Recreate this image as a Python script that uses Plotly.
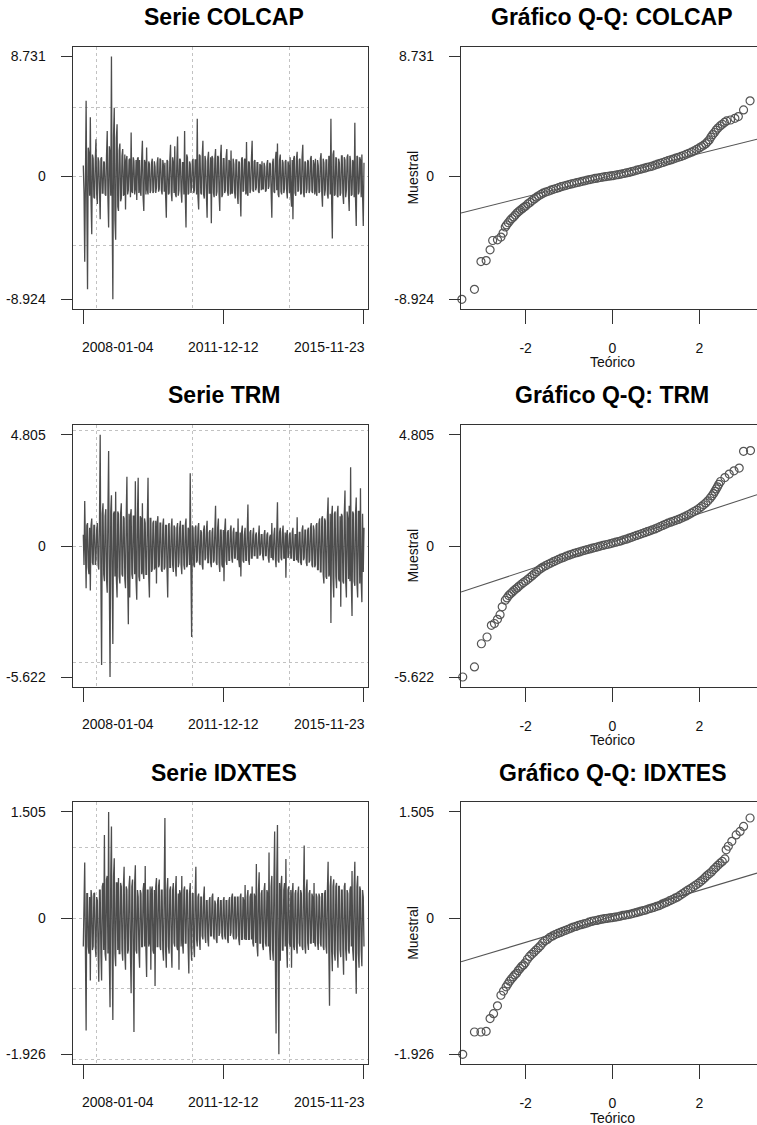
import math
import plotly.graph_objects as go

W, H = 757, 1125

series_names = ["COLCAP", "TRM", "IDXTES"]
date_labels = ["2008-01-04", "2011-12-12", "2015-11-23"]

colcap = [
    0.8, -1.2, -6.2, 1.5, 5.5, -2.0, -8.2, 2.1, 1.6, -1.4, 4.3, -1.8, -4.2, 1.6, 1.3, -1.5, -1.6, 1.2, 2.7, -1.3,
    -2.0, 1.4, 1.1, -1.0, -3.1, 1.3, 1.4, -1.2, -1.2, 1.1, 1.0, -1.3, -1.4, 1.5, 3.3, -1.6, -3.7, 2.2, 1.5, -1.4,
    8.731, -2.5, -8.924, 3.0, 5.0, -3.2, -4.6, 2.8, 3.8, -2.2, -2.5, 1.9, 2.4, -1.8, -1.6, 1.5, 2.0, -1.4, -1.3, 1.6,
    -2.4, 1.2, 1.5, -1.3, -1.0, 1.2, 1.3, -1.5, 3.2, -1.1, -1.2, 1.4, 1.1, -1.3, -0.9, 1.2, -1.7, 1.3, 1.4, -1.2,
    1.2, -1.1, -1.4, 1.3, 2.6, -1.5, -2.5, 1.2, 1.0, -1.3, 2.1, -1.0, -1.3, 1.1, 0.9, -1.2, -1.0, 1.0, 1.3, -1.2,
    -1.1, 1.1, 0.7, -1.2, -0.8, 1.0, 1.4, -1.1, -0.9, 1.3, 1.2, -1.0, -1.3, 1.2, 0.8, -1.1, 1.0, -1.4, -3.0, 1.2,
    1.1, -1.3, -1.2, 1.2, 2.3, -1.1, -1.8, 1.4, 1.0, -1.2, 2.2, -1.3, -1.5, 1.2, 2.9, -1.4, -1.0, 1.3, 1.2, -1.1,
    -1.9, 1.0, 1.0, -1.3, 3.3, -1.5, -3.7, 1.6, 1.4, -1.3, -1.2, 1.1, 0.9, -1.2, -0.8, 1.1, 1.3, -1.2, -1.0, 1.2,
    1.2, -1.3, 4.2, -1.5, -2.4, 1.6, 1.5, -1.2, -1.3, 1.4, 2.6, -1.3, -1.6, 1.5, 1.1, -1.4, -3.0, 1.3, 1.8, -1.2,
    -1.2, 1.4, -3.4, 1.5, 1.3, -1.2, -1.5, 1.3, 2.0, -1.4, -1.1, 1.5, 1.4, -1.3, -2.5, 1.4, 2.3, -1.5, -1.3, 1.3,
    1.3, -1.2, -1.0, 1.4, 2.0, -1.1, -1.4, 1.2, 1.1, -1.3, 1.9, -1.2, -1.2, 1.3, 0.9, -1.1, -1.6, 1.2, 1.2, -1.3,
    -2.0, 1.1, 1.0, -1.2, -2.9, 1.3, 1.4, -1.1, -1.0, 1.2, 1.3, -1.3, 2.5, -1.2, -1.4, 1.1, 1.0, -1.2, -0.9, 1.3,
    2.6, -1.0, -1.1, 1.1, 1.2, -1.0, -0.8, 1.0, 1.0, -1.1, -1.2, 0.9, 0.8, -1.0, 1.1, -0.9, -0.9, 1.0, 0.7, -1.1,
    -1.0, 0.9, 1.2, -0.9, -0.7, 1.0, 0.9, -1.1, -3.0, 1.0, 1.3, -1.1, -1.2, 1.2, 1.8, -1.0, 2.4, -1.3, -1.5, 1.2,
    1.6, -1.1, -1.3, 1.2, 1.0, -1.2, -0.9, 1.1, 1.2, -1.0, -1.6, 1.1, 0.8, -1.2, 1.4, -1.3, -2.2, 1.2, -3.1, 1.3,
    1.5, -1.2, -1.4, 1.3, 1.8, -1.1, -1.0, 1.2, 1.3, -1.3, -1.2, 1.4, 2.3, -1.2, -1.5, 1.1, 1.0, -1.2, -0.9, 1.2,
    1.1, -1.2, -1.0, 1.3, 1.5, -1.1, -1.2, 1.2, 0.9, -1.3, 1.3, -1.1, -1.4, 1.2, 0.8, -1.2, -1.1, 1.3, 1.7, -1.2,
    -2.2, 1.3, 1.0, -1.4, -1.0, 1.2, 1.2, -1.3, -1.6, 1.5, 1.4, -1.3, 4.2, -1.8, -4.5, 1.6, 1.9, -1.4, -1.3, 1.4,
    1.3, -1.4, -1.5, 1.3, 1.0, -1.4, -1.2, 1.5, 1.5, -1.3, -2.0, 1.4, 1.2, -1.5, -1.0, 1.4, 1.6, -1.3, -2.5, 1.5,
    1.1, -1.4, -1.3, 1.2, 1.0, -1.5, 3.9, -1.7, -3.6, 1.5, 1.4, -1.3, -1.1, 1.4, 1.2, -1.5, 1.6, -1.4, -3.6, 1.0,
]

trm = [
    0.5, -0.8, 1.95, -1.0, -1.8, 0.9, 1.0, -0.9, -1.2, 0.8, -1.9, 0.9, 1.2, -0.7, -0.8, 0.9, 0.9, -0.8, -0.6, 0.7,
    1.0, -0.8, -1.0, 1.1, 4.805, -1.5, -5.1, 1.4, 1.85, -1.2, -1.5, 1.3, 1.6, -1.4, -2.0, 1.5, 4.1, -1.6, -5.622, 1.5,
    2.2, -1.5, -4.2, 1.4, 1.5, -1.3, 2.35, -1.4, -2.2, 1.5, 1.4, -1.3, -1.6, 1.4, 1.85, -1.2, -1.3, 1.3, 1.2, -1.4,
    -1.8, 1.3, 3.0, -1.2, -3.35, 1.4, -2.2, 1.3, 1.6, -1.2, -1.4, 1.3, 1.3, -1.2, 2.8, -1.5, -2.3, 1.4, 2.95, -1.3,
    -1.5, 1.3, 1.2, -1.2, 1.85, -1.1, -1.4, 1.2, 1.0, -1.2, -1.2, 1.1, 2.95, -1.3, -2.2, 1.2, 1.2, -1.1, -1.0, 1.0,
    1.1, -1.0, -0.9, 1.1, -1.6, 1.0, 1.3, -0.9, -0.8, 1.0, 1.0, -1.0, -1.1, 0.9, 1.2, -1.0, -0.9, 0.9, 0.9, -1.0,
    -2.2, 0.9, 1.0, -0.9, -0.9, 0.8, 1.2, -0.8, -1.1, 0.9, 0.8, -0.9, -1.3, 0.8, 1.0, -0.9, -0.7, 0.8, 1.1, -0.8,
    -1.2, 0.9, 0.9, -0.8, -1.0, 0.9, 1.2, -0.9, -0.8, 0.8, 0.7, -0.8, 3.15, -1.0, -3.9, 0.9, 0.8, -0.8, -0.9, 0.8,
    0.9, -0.7, -0.6, 0.8, 1.0, -0.7, -0.8, 0.7, 0.6, -0.8, -1.0, 0.7, 0.9, -0.6, -0.5, 0.7, 1.1, -0.7, -0.7, 0.6,
    0.7, -0.7, -0.9, 0.6, 0.8, -0.7, -0.6, 0.7, 1.75, -0.7, -0.8, 0.8, 1.2, -0.7, -1.1, 0.7, 0.7, -0.8, -0.9, 0.7,
    -1.5, 0.7, 1.2, -0.6, -0.8, 0.6, 0.7, -0.6, -0.6, 0.7, 0.9, -0.5, -0.7, 0.6, 0.8, -0.5, -0.5, 0.6, 0.6, -0.6,
    1.2, -0.6, -0.9, 0.6, -1.3, 0.6, 0.9, -0.6, -0.7, 0.5, 0.8, -0.6, -0.6, 0.6, 1.8, -0.6, -0.8, 0.6, 0.7, -0.5,
    -0.5, 0.5, 0.8, -0.4, -0.4, 0.5, 0.6, -0.5, -0.5, 0.4, 0.9, -0.4, -0.3, 0.5, 0.5, -0.4, -0.6, 0.5, 0.7, -0.4,
    -0.4, 0.5, 0.6, -0.5, -0.7, 0.4, 0.5, -0.5, 1.0, -0.5, -0.6, 0.5, 0.8, -0.5, -0.9, 0.6, 1.9, -0.6, -0.7, 0.6,
    0.8, -0.5, -0.6, 0.6, 0.9, -0.5, -0.5, 0.6, -1.35, 0.5, 0.7, -0.5, -0.4, 0.5, 0.6, -0.5, -0.5, 0.6, 0.8, -0.6,
    -0.6, 0.5, 0.5, -0.6, 1.25, -0.6, -0.7, 0.6, 0.6, -0.7, -0.8, 0.7, 0.9, -0.6, -0.5, 0.7, 0.7, -0.7, -0.85, 0.7,
    0.8, -0.7, -0.6, 0.8, 1.0, -0.8, -0.9, 0.9, 0.7, -0.9, -0.8, 0.9, 1.0, -1.0, -1.0, 1.0, 1.2, -1.1, -1.1, 1.2,
    1.3, -1.2, -1.6, 1.2, 1.1, -1.3, -1.4, 1.3, 2.1, -1.3, -1.2, 1.4, -3.3, 1.3, 1.75, -1.4, -2.2, 1.4, 1.5, -1.3,
    -1.8, 1.4, 1.75, -1.4, -1.5, 1.3, -2.6, 1.4, 1.3, -1.5, -1.6, 1.4, 2.4, -1.5, -2.2, 1.5, 1.2, -1.4, 1.75, -1.5,
    3.4, -1.6, -3.0, 1.5, 1.4, -1.5, -1.7, 1.4, 2.1, -1.6, -2.2, 1.5, 1.5, -1.6, 2.5, -1.5, -2.4, 1.4, -1.1, 0.8,
]

idxtes = [
    -0.4, 0.4, 0.79, -0.45, -1.59, 0.35, 0.35, -0.4, -0.5, 0.3, -0.88, 0.4, 0.3, -0.45, -0.4, 0.35, 0.36, -0.4, -0.55, 0.3,
    0.25, -0.45, -0.9, 0.4, 0.4, -0.5, -0.88, 0.45, 0.5, -0.45, 1.18, -0.5, -0.6, 0.55, 0.6, -0.5, 1.505, -0.6, -1.26, 0.6,
    1.3, -0.55, -1.44, 0.6, 0.85, -0.5, -0.68, 0.5, 0.5, -0.45, 0.57, -0.5, -0.5, 0.5, 0.45, -0.45, -0.6, 0.45, 0.73, -0.5,
    -0.73, 0.45, 0.4, -0.5, -0.45, 0.45, 0.6, -0.5, -1.06, 0.45, 0.55, -0.55, -1.61, 0.5, 0.75, -0.45, -0.5, 0.4, 0.3, -0.45,
    -0.7, 0.4, 0.35, -0.4, -0.4, 0.4, 0.5, -0.4, 0.74, -0.45, -0.83, 0.4, 0.4, -0.4, -0.35, 0.45, -0.73, 0.4, 0.45, -0.45,
    -0.5, 0.4, -0.96, 0.45, 0.57, -0.4, -0.4, 0.45, 0.55, -0.4, -0.45, 0.4, 0.4, -0.45, -0.6, 0.45, 1.42, -0.45, -0.7, 0.4,
    0.57, -0.4, -0.5, 0.4, 0.45, -0.4, -0.7, 0.4, 0.5, -0.35, -0.4, 0.4, 0.6, -0.4, -0.45, 0.35, -0.73, 0.4, 0.35, -0.4,
    0.6, -0.35, -0.5, 0.4, 0.45, -0.35, -0.35, 0.4, 0.4, -0.4, -0.78, 0.35, 0.5, -0.4, -0.6, 0.35, 0.35, -0.4, -0.55, 0.35,
    0.73, -0.3, -0.4, 0.3, 0.35, -0.3, -0.45, 0.3, 0.3, -0.25, -0.3, 0.3, 0.45, -0.25, -0.35, 0.25, 0.25, -0.3, -0.4, 0.25,
    0.3, -0.25, -0.25, 0.3, 0.35, -0.25, -0.3, 0.25, 0.2, -0.3, -0.35, 0.25, 0.3, -0.25, -0.2, 0.25, 0.25, -0.25, -0.3, 0.25,
    0.3, -0.25, -0.3, 0.25, 0.25, -0.3, -0.35, 0.25, 0.3, -0.25, -0.2, 0.3, 0.35, -0.25, -0.3, 0.3, 0.3, -0.3, -0.25, 0.3,
    0.3, -0.3, -0.38, 0.3, 0.35, -0.3, -0.3, 0.3, 0.25, -0.3, 0.47, -0.3, -0.3, 0.3, 0.4, -0.3, -0.3, 0.3, 0.35, -0.3,
    0.45, -0.35, -0.4, 0.35, 0.3, -0.35, 0.77, -0.4, -0.54, 0.4, 0.65, -0.35, -0.35, 0.35, 0.4, -0.4, -0.45, 0.4, 0.5, -0.35,
    -0.4, 0.4, 0.35, -0.4, 0.93, -0.45, -0.59, 0.45, 0.6, -0.45, -0.6, 0.5, 1.23, -0.55, -1.63, 0.6, 1.32, -0.7, -1.926, 0.5,
    -0.6, 0.45, 0.6, -0.45, -0.45, 0.4, 0.5, -0.4, 0.84, -0.4, -0.7, 0.4, 0.45, -0.35, -0.4, 0.4, -0.7, 0.35, 0.5, -0.4,
    -0.45, 0.35, 0.4, -0.4, -0.5, 0.35, 0.45, -0.35, -0.4, 0.4, 0.35, -0.4, -0.45, 0.35, 1.03, -0.4, -0.5, 0.4, 0.55, -0.35,
    -0.45, 0.35, 0.4, -0.35, -0.35, 0.35, 0.3, -0.35, 0.5, -0.35, -0.4, 0.35, 0.3, -0.35, -0.45, 0.35, 0.3, -0.35, -0.4, 0.35,
    0.35, -0.4, -0.45, 0.35, 0.4, -0.4, -0.5, 0.4, 0.8, -0.45, -1.24, 0.45, 0.6, -0.45, -0.75, 0.45, 0.55, -0.5, -0.6, 0.45,
    0.5, -0.45, -0.7, 0.45, 0.45, -0.45, -0.55, 0.4, 0.4, -0.45, -0.8, 0.45, 0.5, -0.45, -0.6, 0.4, 0.35, -0.45, -0.5, 0.4,
    0.45, -0.4, 0.67, -0.45, -0.6, 0.45, 0.8, -0.5, -1.07, 0.45, 0.6, -0.5, -0.7, 0.45, 0.4, -0.45, -0.68, 0.4, 0.3, -0.4,
]

colcap_qq_theo = [
    -3.47, -3.18, -3.03, -2.91, -2.82, -2.76, -2.65, -2.57, -2.52,
    -2.47, -2.44, -2.40, -2.36, -2.32, -2.28, -2.24, -2.20, -2.16, -2.12,
    -2.08, -2.04, -2.00, -1.95, -1.90, -1.85, -1.80, -1.75, -1.70, -1.65,
    -1.60, -1.54, -1.48, -1.42, -1.36, -1.30, -1.24, -1.18, -1.12, -1.06,
    -1.00, -0.94, -0.88, -0.82, -0.76, -0.70, -0.64, -0.58, -0.52, -0.46,
    -0.40, -0.34, -0.28, -0.22, -0.16, -0.10, -0.04, 0.02, 0.08, 0.14,
    0.20, 0.26, 0.32, 0.38, 0.44, 0.50, 0.56, 0.62, 0.68, 0.74,
    0.80, 0.86, 0.92, 0.98, 1.04, 1.10, 1.16, 1.22, 1.28, 1.34,
    1.40, 1.46, 1.52, 1.58, 1.64, 1.70, 1.76, 1.82, 1.88, 1.94,
    2.00, 2.05, 2.10, 2.15, 2.19, 2.23, 2.27, 2.31, 2.35, 2.39,
    2.43, 2.48, 2.53, 2.58, 2.63,
    2.72, 2.82, 2.90, 3.02, 3.17, 3.47,
]
colcap_qq_sample = [
    -8.924, -8.20, -6.18, -6.11, -5.33, -4.65, -4.60, -4.40, -4.11,
    -3.67, -3.52, -3.36, -3.19, -3.06, -2.94, -2.80, -2.65, -2.55, -2.44,
    -2.34, -2.24, -2.15, -1.99, -1.88, -1.75, -1.63, -1.50, -1.40, -1.30,
    -1.21, -1.13, -1.07, -0.99, -0.93, -0.87, -0.81, -0.74, -0.69, -0.64,
    -0.58, -0.54, -0.49, -0.44, -0.40, -0.35, -0.31, -0.26, -0.22, -0.18,
    -0.14, -0.11, -0.07, -0.04, -0.01, 0.02, 0.04, 0.07, 0.11, 0.14,
    0.18, 0.22, 0.26, 0.30, 0.35, 0.40, 0.46, 0.51, 0.56, 0.61,
    0.67, 0.71, 0.76, 0.83, 0.90, 0.96, 1.02, 1.09, 1.15, 1.21,
    1.27, 1.34, 1.40, 1.46, 1.53, 1.61, 1.69, 1.77, 1.86, 1.97,
    2.08, 2.18, 2.28, 2.39, 2.52, 2.66, 2.87, 3.05, 3.20, 3.38,
    3.52, 3.68, 3.80, 3.93, 4.04,
    4.11, 4.23, 4.36, 4.84, 5.50, 8.731,
]

trm_qq_theo = [
    -3.45, -3.18, -3.02, -2.89, -2.79, -2.72, -2.65, -2.59, -2.54,
    -2.47, -2.43, -2.39, -2.35, -2.31, -2.27, -2.23, -2.19, -2.15, -2.10,
    -2.05, -2.00, -1.95, -1.90, -1.85, -1.80, -1.75, -1.70, -1.65, -1.60,
    -1.54, -1.48, -1.42, -1.36, -1.30, -1.24, -1.18, -1.12, -1.06, -1.00,
    -0.94, -0.88, -0.82, -0.76, -0.70, -0.64, -0.58, -0.52, -0.46, -0.40,
    -0.34, -0.28, -0.22, -0.16, -0.10, -0.04, 0.02, 0.08, 0.14, 0.20,
    0.26, 0.32, 0.38, 0.44, 0.50, 0.56, 0.62, 0.68, 0.74, 0.80,
    0.86, 0.92, 0.98, 1.04, 1.10, 1.16, 1.22, 1.28, 1.34, 1.40,
    1.46, 1.52, 1.58, 1.64, 1.70, 1.76, 1.82, 1.88, 1.94, 2.00,
    2.05, 2.10, 2.15, 2.20, 2.25, 2.29, 2.33, 2.36, 2.39, 2.42,
    2.45, 2.49,
    2.59, 2.69, 2.80, 2.92, 3.02, 3.18, 3.47,
]
trm_qq_sample = [
    -5.622, -5.19, -4.19, -3.90, -3.40, -3.32, -3.14, -2.94, -2.60,
    -2.32, -2.22, -2.12, -2.04, -1.97, -1.90, -1.84, -1.78, -1.71, -1.63,
    -1.56, -1.49, -1.42, -1.34, -1.26, -1.18, -1.10, -1.02, -0.95, -0.89,
    -0.83, -0.77, -0.72, -0.66, -0.61, -0.56, -0.51, -0.47, -0.42, -0.38,
    -0.34, -0.30, -0.27, -0.24, -0.20, -0.17, -0.14, -0.11, -0.08, -0.05,
    -0.02, 0.01, 0.04, 0.07, 0.09, 0.12, 0.15, 0.18, 0.21, 0.24,
    0.28, 0.31, 0.35, 0.39, 0.43, 0.47, 0.51, 0.55, 0.59, 0.63,
    0.67, 0.71, 0.75, 0.80, 0.85, 0.90, 0.95, 1.00, 1.04, 1.08,
    1.12, 1.16, 1.21, 1.26, 1.31, 1.37, 1.43, 1.50, 1.56, 1.64,
    1.71, 1.79, 1.87, 1.96, 2.07, 2.17, 2.27, 2.37, 2.47, 2.56,
    2.67, 2.79,
    2.96, 3.11, 3.25, 3.37, 4.09, 4.12, 4.805,
]

idxtes_qq_theo = [
    -3.45, -3.18, -3.03, -2.91, -2.82, -2.74, -2.65, -2.57, -2.51,
    -2.45, -2.41, -2.37, -2.33, -2.29, -2.25, -2.21, -2.17, -2.13, -2.09,
    -2.05, -2.01, -1.96, -1.91, -1.86, -1.81, -1.76, -1.71, -1.66, -1.61,
    -1.56, -1.50, -1.44, -1.38, -1.32, -1.26, -1.20, -1.14, -1.08, -1.02,
    -0.96, -0.90, -0.84, -0.78, -0.72, -0.66, -0.60, -0.54, -0.48, -0.42,
    -0.36, -0.30, -0.24, -0.18, -0.12, -0.06, 0.00, 0.06, 0.12, 0.18,
    0.24, 0.30, 0.36, 0.42, 0.48, 0.54, 0.60, 0.66, 0.72, 0.78,
    0.84, 0.90, 0.96, 1.02, 1.08, 1.14, 1.20, 1.26, 1.32, 1.38,
    1.44, 1.50, 1.56, 1.62, 1.68, 1.74, 1.80, 1.86, 1.92, 1.98,
    2.03, 2.08, 2.13, 2.18, 2.23, 2.28, 2.33, 2.38, 2.43, 2.48,
    2.53, 2.59,
    2.62, 2.67, 2.75, 2.85, 2.94, 3.02, 3.17, 3.47,
]
idxtes_qq_sample = [
    -1.926, -1.61, -1.61, -1.60, -1.42, -1.35, -1.24, -1.09, -1.03,
    -0.97, -0.93, -0.89, -0.86, -0.83, -0.80, -0.78, -0.74, -0.71, -0.68,
    -0.66, -0.63, -0.58, -0.54, -0.51, -0.48, -0.45, -0.42, -0.39, -0.35,
    -0.32, -0.30, -0.27, -0.25, -0.23, -0.215, -0.20, -0.185, -0.17, -0.155,
    -0.14, -0.125, -0.115, -0.10, -0.09, -0.08, -0.07, -0.055, -0.045, -0.035,
    -0.03, -0.02, -0.012, -0.005, 0.0, 0.005, 0.01, 0.015, 0.022, 0.03,
    0.04, 0.045, 0.053, 0.06, 0.07, 0.08, 0.09, 0.10, 0.11, 0.12,
    0.135, 0.145, 0.155, 0.17, 0.18, 0.20, 0.215, 0.23, 0.25, 0.265,
    0.285, 0.30, 0.325, 0.35, 0.375, 0.40, 0.42, 0.445, 0.47, 0.495,
    0.52, 0.545, 0.575, 0.605, 0.63, 0.655, 0.69, 0.72, 0.75, 0.78,
    0.805, 0.84,
    0.97, 1.02, 1.09, 1.18, 1.23, 1.30, 1.42, 1.505,
]

qq_line_intercept = [0.093, 0.18, 0.027]
qq_line_slope = [0.786, 0.614, 0.184]
grid_step = [5, 5, 1]

series = [colcap, trm, idxtes]
qq_theo = [colcap_qq_theo, trm_qq_theo, idxtes_qq_theo]
qq_sample = [colcap_qq_sample, trm_qq_sample, idxtes_qq_sample]
for s_ in series:
    assert len(s_) == len(series[0]), [len(x) for x in series]
for a, b in zip(qq_theo, qq_sample):
    assert len(a) == len(b), (len(a), len(b))

# ---------------- styling / layout ----------------
FONT = "Liberation Sans, Arial, Helvetica, sans-serif"
LINE = "#4d4d4d"
BOX = "#333333"
GRID = "#c2c2c2"
TXT = "#111111"


def PX(p):
    return p / W


def PY(p):
    return 1 - p / H


rows_px = [(46.7, 309.0), (425.0, 686.7), (802.3, 1064.0)]
title_px = [17.5, 395.0, 772.7]
ts_xdom = [PX(72.7), PX(368.0)]
qq_xdom = [PX(461.0), 1.0]
qq_xrange = [-3.49, 3.33]

fig = go.Figure()
annotations = []
layout = {}

for r in range(3):
    s = series[r]
    n = len(s)
    last = n - 1
    xs = list(range(n))
    top_px, bot_px = rows_px[r]
    ydom = [PY(bot_px), PY(top_px)]

    lo, hi = min(s), max(s)
    pad = 0.04 * (hi - lo)
    yrange = [lo - pad, hi + pad]
    step = grid_step[r]
    gridvals = [k * step for k in range(math.ceil(yrange[0] / step), math.floor(yrange[1] / step) + 1)]
    yticks = [lo, 0, hi]
    yticktext = [f"{lo:.3f}", "0", f"{hi:.3f}"]

    a_ts = 2 * r + 1
    a_qq = 2 * r + 2
    xn_ts = "xaxis" if a_ts == 1 else f"xaxis{a_ts}"
    yn_ts = "yaxis" if a_ts == 1 else f"yaxis{a_ts}"
    xn_qq = f"xaxis{a_qq}"
    yn_qq = f"yaxis{a_qq}"
    xr_ts = "x" if a_ts == 1 else f"x{a_ts}"
    yr_ts = "y" if a_ts == 1 else f"y{a_ts}"
    xr_qq = f"x{a_qq}"
    yr_qq = f"y{a_qq}"

    # time series
    fig.add_trace(go.Scatter(x=xs, y=s, mode="lines", line=dict(color=LINE, width=1.3),
                             xaxis=xr_ts, yaxis=yr_ts, showlegend=False, hoverinfo="skip"))

    layout[xn_ts] = dict(
        domain=ts_xdom, anchor=yr_ts, range=[-0.0378 * last, 1.0143 * last],
        showline=True, mirror=True, linecolor=BOX, linewidth=1.4,
        ticks="outside", ticklen=14, tickwidth=1.3, tickcolor=BOX,
        tickmode="array", tickvals=[0, 0.4987 * last, last], showticklabels=False,
        showgrid=False, zeroline=False,
        minor=dict(tickmode="array", tickvals=[0.0452 * last, 0.3897 * last, 0.7363 * last],
                   showgrid=True, gridcolor=GRID, griddash="dot", gridwidth=1, ticks=""),
    )
    layout[yn_ts] = dict(
        domain=ydom, anchor=xr_ts, range=yrange,
        showline=True, mirror=True, linecolor=BOX, linewidth=1.4,
        ticks="outside", ticklen=11, tickwidth=1.3, tickcolor=BOX,
        tickmode="array", tickvals=yticks, ticktext=yticktext,
        tickfont=dict(family=FONT, size=14, color=TXT), ticklabelstandoff=12,
        showgrid=False, zeroline=False,
        minor=dict(tickmode="array", tickvals=gridvals, showgrid=True,
                   gridcolor=GRID, griddash="dot", gridwidth=1, ticks=""),
    )

    for lab, frac in zip(date_labels, [0.1237, 0.501, 0.8755]):
        annotations.append(dict(text=lab, x=frac * last, xref=xr_ts, y=PY(bot_px + 37.7),
                                yref="paper", showarrow=False, xanchor="center", yanchor="middle",
                                font=dict(family=FONT, size=14, color=TXT)))

    # QQ plot
    fig.add_trace(go.Scatter(x=qq_theo[r], y=qq_sample[r], mode="markers",
                             marker=dict(symbol="circle-open", size=8, color="#555555",
                                         line=dict(width=1.2, color="#555555")),
                             cliponaxis=False, xaxis=xr_qq, yaxis=yr_qq,
                             showlegend=False, hoverinfo="skip"))
    fig.add_trace(go.Scatter(x=qq_xrange,
                             y=[qq_line_intercept[r] + qq_line_slope[r] * v for v in qq_xrange],
                             mode="lines", line=dict(color="#555555", width=1.1),
                             xaxis=xr_qq, yaxis=yr_qq, showlegend=False, hoverinfo="skip"))

    layout[xn_qq] = dict(
        domain=qq_xdom, anchor=yr_qq, range=qq_xrange,
        showline=True, mirror=True, linecolor=BOX, linewidth=1.4,
        ticks="outside", ticklen=14, tickwidth=1.3, tickcolor=BOX,
        tickmode="array", tickvals=[-2, 0, 2], ticktext=["-2", "0", "2"],
        tickfont=dict(family=FONT, size=14, color=TXT), ticklabelstandoff=12,
        showgrid=False, zeroline=False,
    )
    layout[yn_qq] = dict(
        domain=ydom, anchor=xr_qq, range=yrange,
        showline=True, mirror=False, linecolor=BOX, linewidth=1.4,
        ticks="outside", ticklen=11, tickwidth=1.3, tickcolor=BOX,
        tickmode="array", tickvals=yticks, ticktext=yticktext,
        tickfont=dict(family=FONT, size=14, color=TXT), ticklabelstandoff=12,
        showgrid=False, zeroline=False,
    )

    # titles and axis labels
    annotations.append(dict(text=f"<b>Serie {series_names[r]}</b>", x=PX(224.0), y=PY(title_px[r]),
                            xref="paper", yref="paper", showarrow=False, xanchor="center", yanchor="middle",
                            font=dict(family=FONT, size=23, color="#000000")))
    annotations.append(dict(text=f"<b>Gráfico Q-Q: {series_names[r]}</b>", x=PX(612.0), y=PY(title_px[r]),
                            xref="paper", yref="paper", showarrow=False, xanchor="center", yanchor="middle",
                            font=dict(family=FONT, size=23, color="#000000")))
    annotations.append(dict(text="Muestral", x=PX(412.7), y=PY((top_px + bot_px) / 2),
                            xref="paper", yref="paper", showarrow=False, textangle=-90,
                            xanchor="center", yanchor="middle",
                            font=dict(family=FONT, size=14, color=TXT)))
    annotations.append(dict(text="Teórico", x=PX(612.0), y=PY(bot_px + 53.5),
                            xref="paper", yref="paper", showarrow=False,
                            xanchor="center", yanchor="middle",
                            font=dict(family=FONT, size=14, color=TXT)))

fig.update_layout(
    width=W, height=H,
    margin=dict(l=0, r=0, t=0, b=0),
    paper_bgcolor="white", plot_bgcolor="white",
    showlegend=False,
    annotations=annotations,
    font=dict(family=FONT, size=14, color=TXT),
    **layout,
)

# remove the default page margin so the figure sits at the window's top-left corner
fig.write_html("out.html",
               config={"displayModeBar": False},
               post_script="document.body.style.margin='0';document.body.style.overflow='hidden';")
